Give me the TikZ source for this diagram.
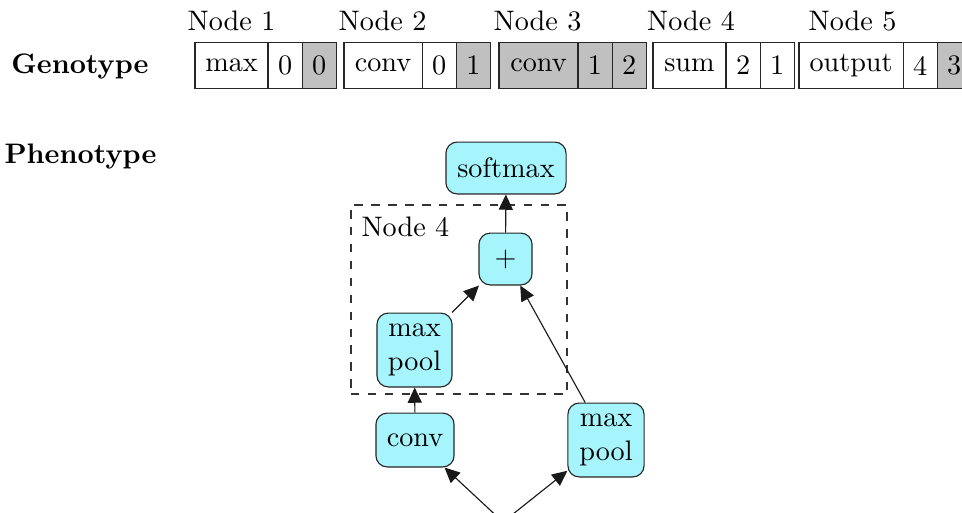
\documentclass[tikz,border=0pt]{standalone}
\usetikzlibrary{arrows.meta}
\definecolor{nodecyan}{RGB}{166,244,252}
\definecolor{genegray}{RGB}{192,192,192}
\begin{document}
\begin{tikzpicture}[x=0.3546pt,y=-0.3546pt,
  cell/.style={draw=black!85, anchor=west, minimum height=16.2pt, inner sep=0pt, outer sep=0pt},
  wcell/.style={cell, minimum width=#1},
  ncell/.style={cell, minimum width=12.1pt},
  on/.style={fill=genegray},
  op/.style={draw=black!85, fill=nodecyan, rounded corners=4pt, inner sep=0pt, align=center},
  arr/.style={draw=black!90, -{Triangle[length=5.4pt,width=5pt]}},
  lbl/.style={anchor=base, inner sep=0pt}]
\useasboundingbox (0,0) rectangle (962,512);
\clip (0,0) rectangle (962,512);

% labels
\node[lbl] (geno) at (80,73) {\bfseries Genotype};
\node[lbl] (pheno) at (80.5,163) {\bfseries Phenotype};
\node[lbl] (l1) at (231.5,30) {Node 1};
\node[lbl] (l2) at (382.5,30) {Node 2};
\node[lbl] (l3) at (537.5,30) {Node 3};
\node[lbl] (l4) at (691,30) {Node 4};
\node[lbl] (l5) at (852.5,30) {Node 5};

% genotype
\node[wcell=25.9pt] (g1a) at (195,65.5) {max};
\node[ncell] (g1b) at (g1a.east) {0};
\node[ncell,on] (g1c) at (g1b.east) {0};

\node[wcell=27.7pt] (g2a) at (344,65.5) {conv};
\node[ncell] (g2b) at (g2a.east) {0};
\node[ncell,on] (g2c) at (g2b.east) {1};

\node[wcell=28pt,on] (g3a) at (499,65.5) {conv};
\node[ncell,on] (g3b) at (g3a.east) {1};
\node[ncell,on] (g3c) at (g3b.east) {2};

\node[wcell=25.9pt] (g4a) at (653,65.5) {sum};
\node[ncell] (g4b) at (g4a.east) {2};
\node[ncell] (g4c) at (g4b.east) {1};

\node[wcell=36.9pt] (g5a) at (799,65.5) {output};
\node[ncell] (g5b) at (g5a.east) {4};
\node[ncell,on] (g5c) at (g5b.east) {3};

% phenotype
\node[draw=black!80, dashed, minimum width=76.6pt, minimum height=67pt, inner sep=0pt] (grp) at (459,299.5) {};
\node[anchor=base west, inner sep=0pt] (grplbl) at (361,236) {Node 4};

\node[op, minimum width=42.6pt, minimum height=18.4pt] (soft) at (506,168) {softmax};
\node[op, minimum width=18.8pt, minimum height=18.4pt] (plus) at (505.5,259) {$+$};
\node[op, minimum width=26.6pt, minimum height=26.2pt] (mp1) at (414.5,350) {max\\pool};
\node[op, minimum width=27.7pt, minimum height=19.1pt] (conv) at (415,440) {conv};
\node[op, minimum width=27pt, minimum height=26.2pt] (mp2) at (606,440) {max\\pool};
\coordinate (in) at (503,522);

\draw[arr] (conv) -- (mp1);
\draw[arr] (mp1) -- (plus);
\draw[arr] (mp2) -- (plus);
\draw[arr] (plus) -- (soft);
\draw[arr] (in) -- (conv);
\draw[arr] (in) -- (mp2);
\end{tikzpicture}
\end{document}
